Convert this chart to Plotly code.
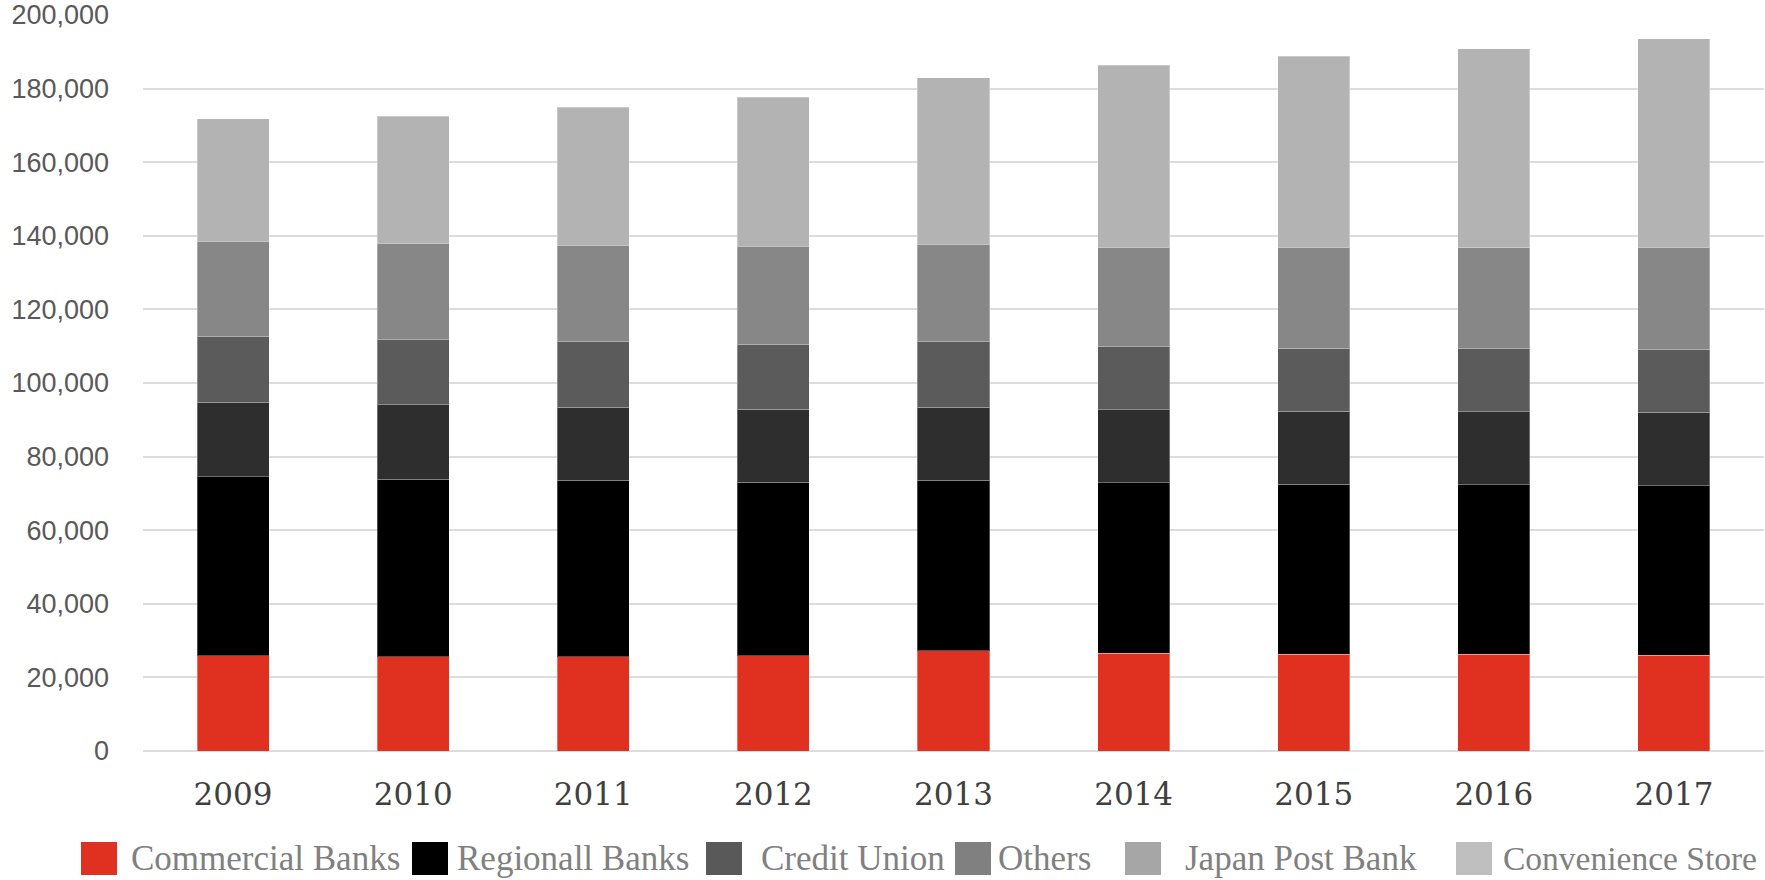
import plotly.graph_objects as go

years = ["2009", "2010", "2011", "2012", "2013", "2014", "2015", "2016", "2017"]

commercial_banks = [25950, 25650, 25650, 25950, 27180, 26560, 26260, 26260, 25960]
regional_banks = [48600, 48240, 47940, 47030, 46410, 46370, 46230, 46110, 46150]
credit_union = [20200, 20160, 19850, 19840, 19850, 19820, 19820, 19840, 19930]
others = [17920, 17710, 17710, 17710, 17710, 17110, 17100, 17100, 17110]
japan_post_bank = [25870, 26260, 26260, 26570, 26560, 26980, 27430, 27480, 27700]
convenience_store = [33310, 34500, 37550, 40610, 45190, 49490, 51940, 54050, 56740]

series_names = ["Commercial Banks", "Regionall Banks", "Credit Union", "Others",
                "Japan Post Bank", "Convenience Store"]
series_values = [commercial_banks, regional_banks, credit_union, others,
                 japan_post_bank, convenience_store]
bar_colors = ["#e03120", "#000000", "#2e2e2e", "#5b5b5b", "#878787", "#b3b3b3"]
legend_colors = ["#e03120", "#000000", "#595959", "#808080", "#a6a6a6", "#bfbfbf"]

y_ticks = [0, 20000, 40000, 60000, 80000, 100000, 120000, 140000, 160000, 180000, 200000]

W, H = 1765, 880
L, R, T, B = 143, 1, 15, 129
PW, PH = W - L - R, H - T - B


def px_x(px):
    return (px - L) / PW


def px_y(py):
    return (H - B - py) / PH


fig = go.Figure()
for name, vals, col in zip(series_names, series_values, bar_colors):
    fig.add_trace(go.Bar(
        x=years, y=vals, name=name, showlegend=False,
        marker=dict(color=col, line=dict(color="rgba(255,255,255,0.3)", width=1)),
    ))

# custom legend (large swatches like the reference)
sq_left = [81, 412, 706, 955, 1125, 1456]
txt_left = [131, 457, 761, 998, 1185, 1503]
txt_size = [35, 35, 35, 35, 35, 33.5]
shapes = []
annotations = []
for name, col, sx, tx, fs in zip(series_names, legend_colors, sq_left, txt_left, txt_size):
    shapes.append(dict(type="rect", xref="paper", yref="paper",
                       x0=px_x(sx), x1=px_x(sx + 36), y0=px_y(875), y1=px_y(842),
                       fillcolor=col, line=dict(width=0)))
    annotations.append(dict(text=name, xref="paper", yref="paper",
                            x=px_x(tx - 2), y=px_y(858), xanchor="left", yanchor="middle",
                            showarrow=False,
                            font=dict(family="Liberation Serif", size=fs, color="#808080")))

fig.update_layout(
    width=W, height=H,
    margin=dict(l=L, r=R, t=T, b=B),
    barmode="stack", bargap=0.6,
    plot_bgcolor="white", paper_bgcolor="white",
    shapes=shapes, annotations=annotations,
    xaxis=dict(
        type="category", showgrid=False, showline=False, ticks="",
        tickfont=dict(family="DejaVu Serif", size=31, color="#404040"),
        ticklabelstandoff=22,
    ),
    yaxis=dict(
        range=[0, 200000], tickvals=y_ticks, tickformat=",",
        showgrid=True, gridcolor="#dcdcdc", gridwidth=2,
        zeroline=True, zerolinecolor="#dcdcdc", zerolinewidth=2,
        showline=False, ticks="",
        tickfont=dict(family="Liberation Sans", size=27, color="#595959"),
        ticklabelstandoff=33,
    ),
)

fig.write_html("out.html")
